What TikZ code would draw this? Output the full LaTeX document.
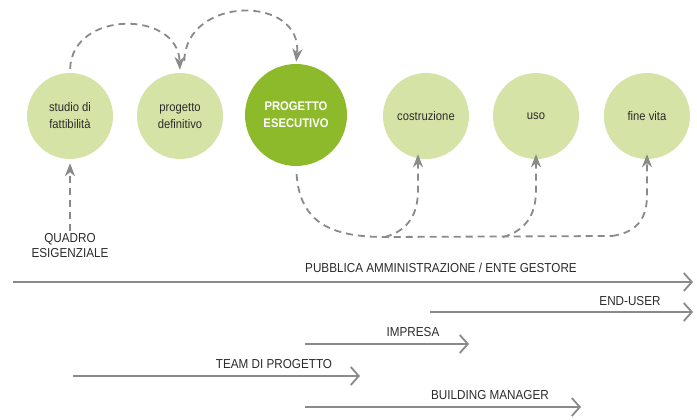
\documentclass[tikz,border=0pt]{standalone}
\usepackage{fontspec}
\setmainfont[FakeStretch=0.9]{Liberation Sans}
\usetikzlibrary{arrows.meta}
\definecolor{lightg}{HTML}{D5E3A7}
\definecolor{darkg}{HTML}{8CBA2B}
\definecolor{linegray}{HTML}{8A8A8A}
\definecolor{txt}{HTML}{2B2B2B}
\tikzset{
  x=1pt,y=-1pt,
  phase/.style={circle,fill=lightg,minimum size=86pt,inner sep=0pt,align=center,
    text=txt,font=\fontsize{12.5}{17}\selectfont},
  mainphase/.style={circle,fill=darkg,minimum size=102pt,inner sep=0pt,align=center,
    text=white,font=\bfseries\fontsize{12.5}{17}\selectfont},
  dasharrow/.style={draw=linegray,line width=1.8pt,dash pattern=on 7pt off 5pt,
    -{Stealth[length=13pt,width=10pt,inset=4pt]}},
  dashline/.style={draw=linegray,line width=1.8pt,dash pattern=on 7pt off 5pt},
  barrow/.style={draw=linegray,line width=2.2pt,-{Straight Barb[length=8pt,width=18pt,line width=1.8pt]}},
  barlabel/.style={text=txt,font=\fontsize{13}{15}\selectfont,inner sep=0pt},
}
\begin{document}
\begin{tikzpicture}
\useasboundingbox (0,0) rectangle (697,420);
% phases
\node[phase] (s) at (70,116) {studio di\\fattibilità};
\node[phase] (d) at (180,116) {progetto\\definitivo};
\node[mainphase] (e) at (296,115) {PROGETTO\\ESECUTIVO};
\node[phase] (c) at (426,116) {costruzione};
\node[phase] (u) at (536,116) {uso};
\node[phase] (f) at (647,116) {fine vita};
% top arcs
\draw[dasharrow,shorten <=4pt,shorten >=3pt] (s.north) .. controls (72,10) and (178,10) .. (d.north);
\draw[dasharrow,shorten <=12pt,shorten >=2pt] ([xshift=4pt]d.north) .. controls (186,-5) and (303,-5) .. (e.north);
% quadro esigenziale
\node[barlabel,align=center] (q) at (70,246) {QUADRO\\ESIGENZIALE};
\draw[dasharrow,shorten <=3pt,shorten >=4pt] (q.north) -- (s.south);
% bottom dashed network
\coordinate (b1) at (385,237);
\coordinate (b2) at (503,237);
\coordinate (b3) at (612,236);
\coordinate (cu) at ([xshift=-8pt,yshift=5pt]c.south);
\coordinate (uu) at ([yshift=5pt]u.south);
\coordinate (fu) at ([yshift=5pt]f.south);
\draw[dashline,shorten <=8pt] (e.south) .. controls (300,222) and (330,237) .. (b1) -- (b3);
\draw[dasharrow] (b3) .. controls (640,232) and (647,215) .. (647,195) -- (fu);
\draw[dasharrow] (b1) .. controls (410,230) and (418,212) .. (418,190) -- (cu);
\draw[dasharrow] (b2) .. controls (528,230) and (536,212) .. (536,190) -- (uu);
% stakeholder bars
\coordinate (p1) at (13,282);  \coordinate (p2) at (693,282);
\coordinate (eu1) at (430,312); \coordinate (eu2) at (693,312);
\coordinate (i1) at (305,344); \coordinate (i2) at (469,344);
\coordinate (t1) at (73,376);  \coordinate (t2) at (360,376);
\coordinate (bm1) at (305,407); \coordinate (bm2) at (581,407);
\draw[barrow] (p1) -- (p2);
\draw[barrow] (eu1) -- (eu2);
\draw[barrow] (i1) -- (i2);
\draw[barrow] (t1) -- (t2);
\draw[barrow] (bm1) -- (bm2);
\node[barlabel] (pl) at (441,268) {PUBBLICA AMMINISTRAZIONE / ENTE GESTORE};
\node[barlabel] (el) at (630,301) {END-USER};
\node[barlabel] (il) at (413,332) {IMPRESA};
\node[barlabel] (tl) at (274,364) {TEAM DI PROGETTO};
\node[barlabel] (bl) at (490,395) {BUILDING MANAGER};
\end{tikzpicture}
\end{document}
